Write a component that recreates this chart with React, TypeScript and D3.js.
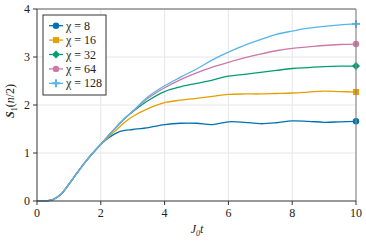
import React from 'react';
import * as d3 from 'd3';

// time grid: fine steps up to t = 3, then coarser
const times = [0, 0.25, 0.5, 0.75, 1, 1.25, 1.5, 1.75, 2, 2.25, 2.5, 2.75, 3,
    3.5, 4, 4.5, 5, 5.5, 6, 6.5, 7, 7.5, 8, 8.5, 9, 9.5, 10];

// all bond dimensions share the early growth
const rise = [0, 0.0, 0.03, 0.14, 0.35, 0.58, 0.8, 1.0];

const chi8 = [1.18, 1.32, 1.42, 1.47, 1.49, 1.53, 1.59, 1.62, 1.62, 1.59, 1.65, 1.64, 1.61, 1.63, 1.67, 1.66, 1.64, 1.65, 1.66];
const chi16 = [1.18, 1.34, 1.49, 1.64, 1.76, 1.93, 2.05, 2.1, 2.14, 2.18, 2.22, 2.23, 2.23, 2.24, 2.25, 2.27, 2.29, 2.28, 2.27];
const chi32 = [1.18, 1.37, 1.55, 1.72, 1.86, 2.1, 2.28, 2.38, 2.45, 2.52, 2.6, 2.64, 2.68, 2.72, 2.76, 2.78, 2.8, 2.81, 2.81];
const chi64 = [1.18, 1.37, 1.55, 1.72, 1.87, 2.15, 2.36, 2.53, 2.67, 2.79, 2.89, 2.98, 3.06, 3.13, 3.18, 3.21, 3.24, 3.26, 3.27];
const chi128 = [1.18, 1.37, 1.55, 1.72, 1.87, 2.18, 2.4, 2.58, 2.75, 2.94, 3.1, 3.24, 3.36, 3.47, 3.54, 3.6, 3.64, 3.67, 3.69];

const labels = ['8', '16', '32', '64', '128'];
const colors = ['#0072B2', '#E69F00', '#009E73', '#CC79A7', '#56B4E9'];
const markers = ['circle', 'square', 'diamond', 'circle', 'cross'];

const xTicks = [0, 2, 4, 6, 8, 10];
const yTicks = [0, 1, 2, 3, 4];

const seriesValues = [chi8, chi16, chi32, chi64, chi128].map(v => rise.concat(v));

const FONT = 'Liberation Serif';

const Marker = ({ kind, x, y, color }: { kind: string; x: number; y: number; color: string }) => {
    if (kind === 'circle') return <circle cx={x} cy={y} r={3.2} fill={color} />;
    if (kind === 'square') return <rect x={x - 3} y={y - 3} width={6} height={6} fill={color} />;
    if (kind === 'diamond') return <path d={`M${x},${y - 4}L${x + 4},${y}L${x},${y + 4}L${x - 4},${y}Z`} fill={color} />;
    return (
        <g stroke={color} strokeWidth={2}>
            <line x1={x - 4} x2={x + 4} y1={y} y2={y} />
            <line x1={x} x2={x} y1={y - 4} y2={y + 4} />
        </g>
    );
};

const App = () => {
    const width = 366;
    const height = 244;
    const left = 37, right = 356, top = 9, bottom = 201;

    const x = d3.scaleLinear().domain([0, 10]).range([left, right]);
    const y = d3.scaleLinear().domain([0, 4]).range([bottom, top]);

    const line = d3.line<number>()
        .x((_, i) => x(times[i]))
        .y(d => y(d))
        .curve(d3.curveCatmullRom.alpha(0.5));

    return (
        <svg width={width} height={height} style={{ position: 'absolute', left: 0, top: 0 }}>
            <rect width={width} height={height} fill="white" />
            {xTicks.slice(1, -1).map(t => (
                <line key={'gx' + t} x1={x(t)} x2={x(t)} y1={top} y2={bottom} stroke="#e6e6e6" />
            ))}
            {yTicks.slice(1, -1).map(t => (
                <line key={'gy' + t} x1={left} x2={right} y1={y(t)} y2={y(t)} stroke="#e6e6e6" />
            ))}

            {seriesValues.map((vals, i) => (
                <path key={'s' + i} d={line(vals) || ''} fill="none" stroke={colors[i]} strokeWidth={1.3} />
            ))}
            {seriesValues.map((vals, i) => (
                <Marker key={'m' + i} kind={markers[i]} x={x(times[times.length - 1])} y={y(vals[vals.length - 1])} color={colors[i]} />
            ))}

            {/* frame */}
            <line x1={left} x2={right} y1={top} y2={top} stroke="#555" />
            <line x1={right} x2={right} y1={top} y2={bottom} stroke="#888" strokeWidth={1.2} />
            <line x1={left} x2={left} y1={top} y2={bottom} stroke="#333" />
            <line x1={left} x2={right} y1={bottom} y2={bottom} stroke="#333" />

            {xTicks.map(t => (
                <g key={'xt' + t}>
                    <line x1={x(t)} x2={x(t)} y1={bottom} y2={bottom + 4} stroke="#333" />
                    <text x={x(t)} y={bottom + 16} textAnchor="middle" fontFamily={FONT} fontSize={12} fill="#222">{t}</text>
                </g>
            ))}
            {yTicks.map(t => (
                <g key={'yt' + t}>
                    <line x1={left - 4} x2={left} y1={y(t)} y2={y(t)} stroke="#333" />
                    <text x={left - 7} y={y(t) + 4} textAnchor="end" fontFamily={FONT} fontSize={12} fill="#222">{t}</text>
                </g>
            ))}

            <text x={197} y={233} textAnchor="middle" fontFamily={FONT} fontSize={12} fill="#222" fontStyle="italic">
                J<tspan fontSize={8} dy={3}>0</tspan><tspan dy={-3}>t</tspan>
            </text>
            <text transform={`translate(14,${(top + bottom) / 2 - 4}) rotate(-90)`} textAnchor="middle" fontFamily={FONT} fontSize={12} fill="#222">
                <tspan fontStyle="italic" fontWeight="bold">S</tspan><tspan fontSize={8} dy={3}>1</tspan><tspan dy={-3}>(</tspan><tspan fontStyle="italic">n</tspan><tspan>/2)</tspan>
            </text>

            {/* legend */}
            <rect x={43} y={15} width={63} height={80} fill="white" stroke="#333" />
            {labels.map((lab, i) => {
                const ly = 25.7 + i * 14.4;
                return (
                    <g key={'l' + i}>
                        <line x1={49} x2={63} y1={ly} y2={ly} stroke={colors[i]} strokeWidth={1.3} />
                        <Marker kind={markers[i]} x={56} y={ly} color={colors[i]} />
                        <text x={66} y={ly + 4} fontFamily={FONT} fontSize={12} fill="#222">χ = {lab}</text>
                    </g>
                );
            })}
        </svg>
    );
};

export default App;
